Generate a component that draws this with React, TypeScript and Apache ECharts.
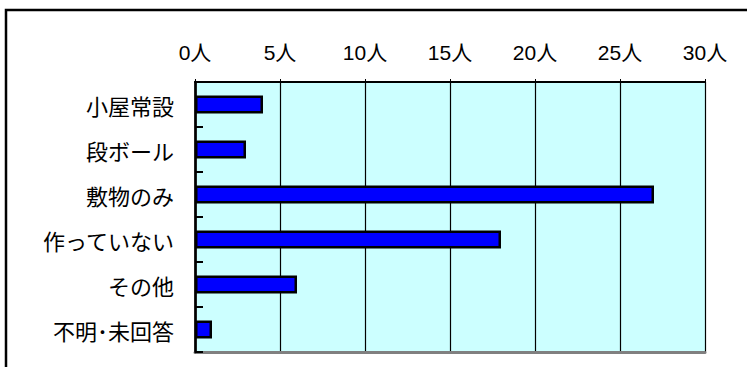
import React, { useEffect, useRef } from "react";
import * as echarts from "echarts";

const categories = ["小屋常設", "段ボール", "敷物のみ", "作っていない", "その他", "不明･未回答"];
const values = [4, 3, 27, 18, 6, 1];
const xMin = 0;
const xMax = 30;
const xInterval = 5;
const unit = "人";

export default function App() {
  const ref = useRef<HTMLDivElement>(null);
  useEffect(() => {
    if (!ref.current) return;
    const chart = echarts.init(ref.current, null, { renderer: "svg" });
    const latin = "'Liberation Sans', 'Noto Sans CJK JP', sans-serif";
    const cjk = "'Noto Sans CJK JP', sans-serif";
    chart.setOption({
      animation: false,
      backgroundColor: "#ffffff",
      grid: {
        left: 195,
        right: 42,
        top: 82,
        bottom: 15,
        show: true,
        backgroundColor: "#CCFFFF",
        borderWidth: 0,
      },
      graphic: [
        {
          type: "rect",
          shape: { x: 6, y: 10, width: 760, height: 400 },
          style: { fill: "none", stroke: "#000", lineWidth: 2.5 },
          silent: true,
        },
      ],
      xAxis: [
        {
          type: "value",
          position: "top",
          min: xMin,
          max: xMax,
          interval: xInterval,
          axisLine: { show: true, lineStyle: { color: "#000", width: 2 } },
          axisTick: { show: true, inside: false, length: 3, lineStyle: { color: "#000", width: 1 } },
          axisLabel: {
            formatter: (v: number) => `${v}${unit}`,
            color: "#000",
            fontSize: 21,
            fontFamily: latin,
            margin: 19,
          },
          splitLine: { show: true, lineStyle: { color: "#000", width: 1.2 } },
        },
        {
          type: "value",
          position: "bottom",
          min: xMin,
          max: xMax,
          interval: xInterval,
          axisLine: { show: true, lineStyle: { color: "#808080", width: 3 } },
          axisTick: { show: false },
          axisLabel: { show: false },
          splitLine: { show: false },
        },
      ],
      yAxis: [
        {
          type: "category",
          data: categories,
          inverse: true,
          axisLine: { show: true, lineStyle: { color: "#000", width: 2.5 } },
          axisTick: { show: true, inside: true, length: 8, lineStyle: { color: "#000", width: 2 } },
          axisLabel: {
            color: "#000",
            fontSize: 22,
            fontFamily: cjk,
            margin: 21,
          },
          splitLine: { show: false },
          z: 5,
        },
        {
          type: "category",
          data: categories,
          inverse: true,
          position: "right",
          axisLine: { show: true, lineStyle: { color: "#808080", width: 3 } },
          axisTick: { show: false },
          axisLabel: { show: false },
          splitLine: { show: false },
        },
      ],
      series: [
        {
          type: "bar",
          data: values,
          xAxisIndex: 0,
          yAxisIndex: 0,
          barWidth: 18,
          itemStyle: { color: "#0000FF", borderColor: "#000", borderWidth: 2.5 },
        },
      ],
    });
    return () => chart.dispose();
  }, []);
  return <div ref={ref} style={{ width: 747, height: 367, position: "absolute", left: 0, top: 0 }} />;
}
